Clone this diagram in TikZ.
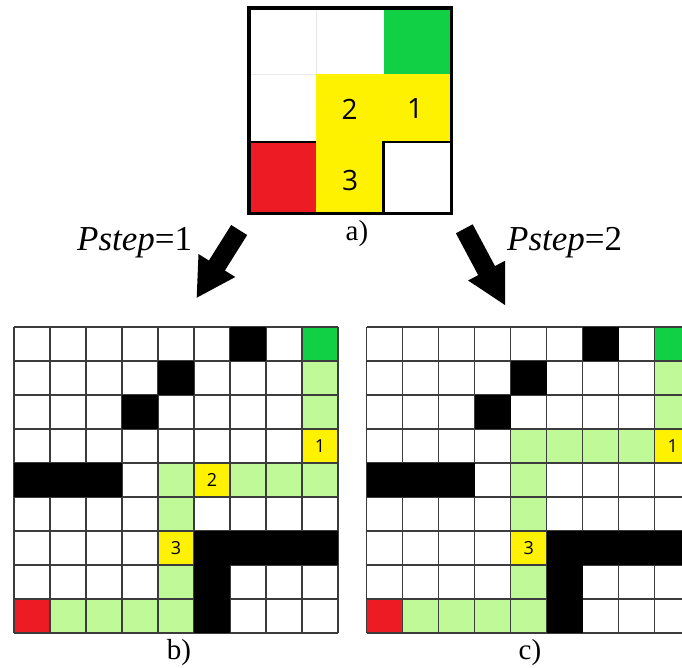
\documentclass[tikz,border=0pt]{standalone}
\usepackage{fontspec}
\setmainfont{Liberation Serif}
\newfontfamily\numfont{Open Sans}
\definecolor{cgreen}{RGB}{18,208,70}
\definecolor{lgreen}{RGB}{192,250,152}
\definecolor{cyellow}{RGB}{255,242,0}
\definecolor{cred}{RGB}{237,28,36}
\definecolor{gline}{RGB}{60,60,60}
\definecolor{faint}{RGB}{232,232,232}
\tikzset{
  gridline/.style={draw=gline, line width=1.2pt},
  bignum/.style={font=\numfont\fontsize{28}{28}\selectfont, inner sep=0pt},
  cellnum/.style={font=\numfont\fontsize{18}{18}\selectfont, inner sep=0pt},
  caption/.style={font=\fontsize{29}{29}\selectfont, inner sep=0pt, anchor=base},
  plabel/.style={font=\fontsize{35}{35}\selectfont, inner sep=0pt, anchor=base west},
  blockarrow/.style={fill=black}
}
\begin{document}
\begin{tikzpicture}[x=1pt,y=-1pt]
\useasboundingbox (0,0) rectangle (682,667);
\clip (0,0) rectangle (682,667);
\fill[white] (0,0) rectangle (682,667);

% ---------- grid a ----------
\fill[cgreen] (383.5,8) rectangle (451.5,74);
\fill[cyellow] (316,74) rectangle (451.5,142);
\fill[cyellow] (316,142) rectangle (383.5,213.3);
\fill[cred] (249,142) rectangle (316,213.3);
\draw[faint, line width=1pt] (316,8) -- (316,74);
\draw[faint, line width=1pt] (249,74) -- (316,74);
\draw[black, line width=2pt] (249,142) -- (316,142);
\draw[black, line width=2.5pt] (383.5,213.3) -- (383.5,142) -- (451.5,142);
\draw[black, line width=3.5pt] (249,8) rectangle (451.5,213.3);
\node[bignum] (a2) at (349.5,109) {2};
\node[bignum] (a1) at (415,109) {1};
\node[bignum] (a3) at (350,180) {3};
\node[caption] (capa) at (357,240) {a)};

% ---------- arrows ----------
\fill[blockarrow] (231.2,225.0) -- (247.2,235.0) -- (224.9,270.5) -- (235.3,277.0)
   -- (196.7,297.7) -- (198.5,254.0) -- (208.9,260.5) -- cycle;
\fill[blockarrow] (455.9,233.3) -- (472.7,224.3) -- (495.0,266.1) -- (505.1,260.7)
   -- (505,305) -- (468.1,280.5) -- (478.2,275.1) -- cycle;
\node[plabel] (p1) at (77,250) {\textit{Pstep}=1};
\node[plabel] (p2) at (507,250) {\textit{Pstep}=2};

% ---------- grid b ----------
\begin{scope}[shift={(14,327)}]
  \fill[cgreen] (288,0) rectangle ++(36,34);
  \fill[cred] (0,272) rectangle ++(36,34);
  \foreach \c/\r in {8/1,8/2,4/4,6/4,7/4,8/4,4/5,4/7,1/8,2/8,3/8,4/8}
    \fill[lgreen] (36*\c,34*\r) rectangle ++(36,34);
  \foreach \c/\r in {8/3,5/4,4/6}
    \fill[cyellow] (36*\c,34*\r) rectangle ++(36,34);
  \foreach \i in {0,...,9} \draw[gridline] (36*\i,0) -- (36*\i,306);
  \foreach \j in {0,...,9} \draw[gridline] (0,34*\j) -- (324,34*\j);
  \foreach \c/\r in {6/0,4/1,3/2,0/4,1/4,2/4,5/6,6/6,7/6,8/6,5/7,5/8}
    \fill[black] (36*\c,34*\r) rectangle ++(36,34);
  \node[cellnum] (b1) at (306,119) {1};
  \node[cellnum] (b2) at (198,153) {2};
  \node[cellnum] (b3) at (162,221) {3};
\end{scope}
\node[caption] (capb) at (179,659.5) {b)};

% ---------- grid c ----------
\begin{scope}[shift={(366.7,327)}]
  \fill[cgreen] (288,0) rectangle ++(36,34);
  \fill[cred] (0,272) rectangle ++(36,34);
  \foreach \c/\r in {8/1,8/2,4/3,5/3,6/3,7/3,4/4,4/5,4/7,1/8,2/8,3/8,4/8}
    \fill[lgreen] (36*\c,34*\r) rectangle ++(36,34);
  \foreach \c/\r in {8/3,4/6}
    \fill[cyellow] (36*\c,34*\r) rectangle ++(36,34);
  \foreach \i in {0,...,9} \draw[gridline] (36*\i,0) -- (36*\i,306);
  \foreach \j in {0,...,9} \draw[gridline] (0,34*\j) -- (324,34*\j);
  \foreach \c/\r in {6/0,4/1,3/2,0/4,1/4,2/4,5/6,6/6,7/6,8/6,5/7,5/8}
    \fill[black] (36*\c,34*\r) rectangle ++(36,34);
  \node[cellnum] (c1) at (306,119) {1};
  \node[cellnum] (c3) at (162,221) {3};
\end{scope}
\node[caption] (capc) at (530,659.5) {c)};
\end{tikzpicture}
\end{document}
